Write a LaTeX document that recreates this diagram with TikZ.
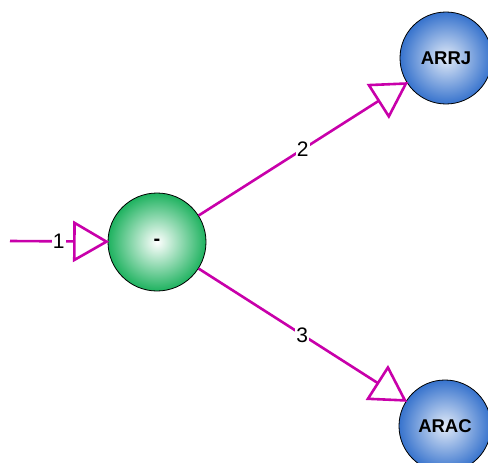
\documentclass[tikz,border=0pt]{standalone}
\usepackage{fontspec}
\setmainfont{Liberation Sans}
\usetikzlibrary{arrows.meta}
\definecolor{edgec}{RGB}{200,0,170}
\definecolor{greenc}{RGB}{30,178,95}
\definecolor{bluec}{RGB}{55,115,205}
\tikzset{
  flow/.style={draw=edgec, line width=2.6pt, shorten >=-1.5pt, -{Triangle[open, length=36pt, width=41pt, line width=2.6pt]}},
  elabel/.style={fill=white, inner sep=1pt, font=\fontsize{21}{21}\selectfont, text=black},
  gnode/.style={circle, draw=black, line width=0.8pt, minimum size=98pt, inner sep=0pt, inner color=white, outer color=greenc, font=\bfseries\fontsize{20}{20}\selectfont},
  bnode/.style={circle, draw=black, line width=0.8pt, minimum size=92pt, inner sep=0pt, inner color=white!85!bluec, outer color=bluec, font=\bfseries\fontsize{18.5}{18.5}\selectfont}
}
\begin{document}
\begin{tikzpicture}[x=1pt,y=-1pt]
\useasboundingbox (0,0) rectangle (488,463);
\node[gnode] (m) at (157,242) {-};
\node[bnode] (r) at (446,58) {ARRJ};
\node[bnode] (c) at (445,426) {ARAC};
\coordinate (s) at (10,241);
\draw[flow] (s) -- node[elabel]{1} (m);
\draw[flow] (m) -- node[elabel]{2} (r);
\draw[flow] (m) -- node[elabel]{3} (c);
\end{tikzpicture}
\end{document}
